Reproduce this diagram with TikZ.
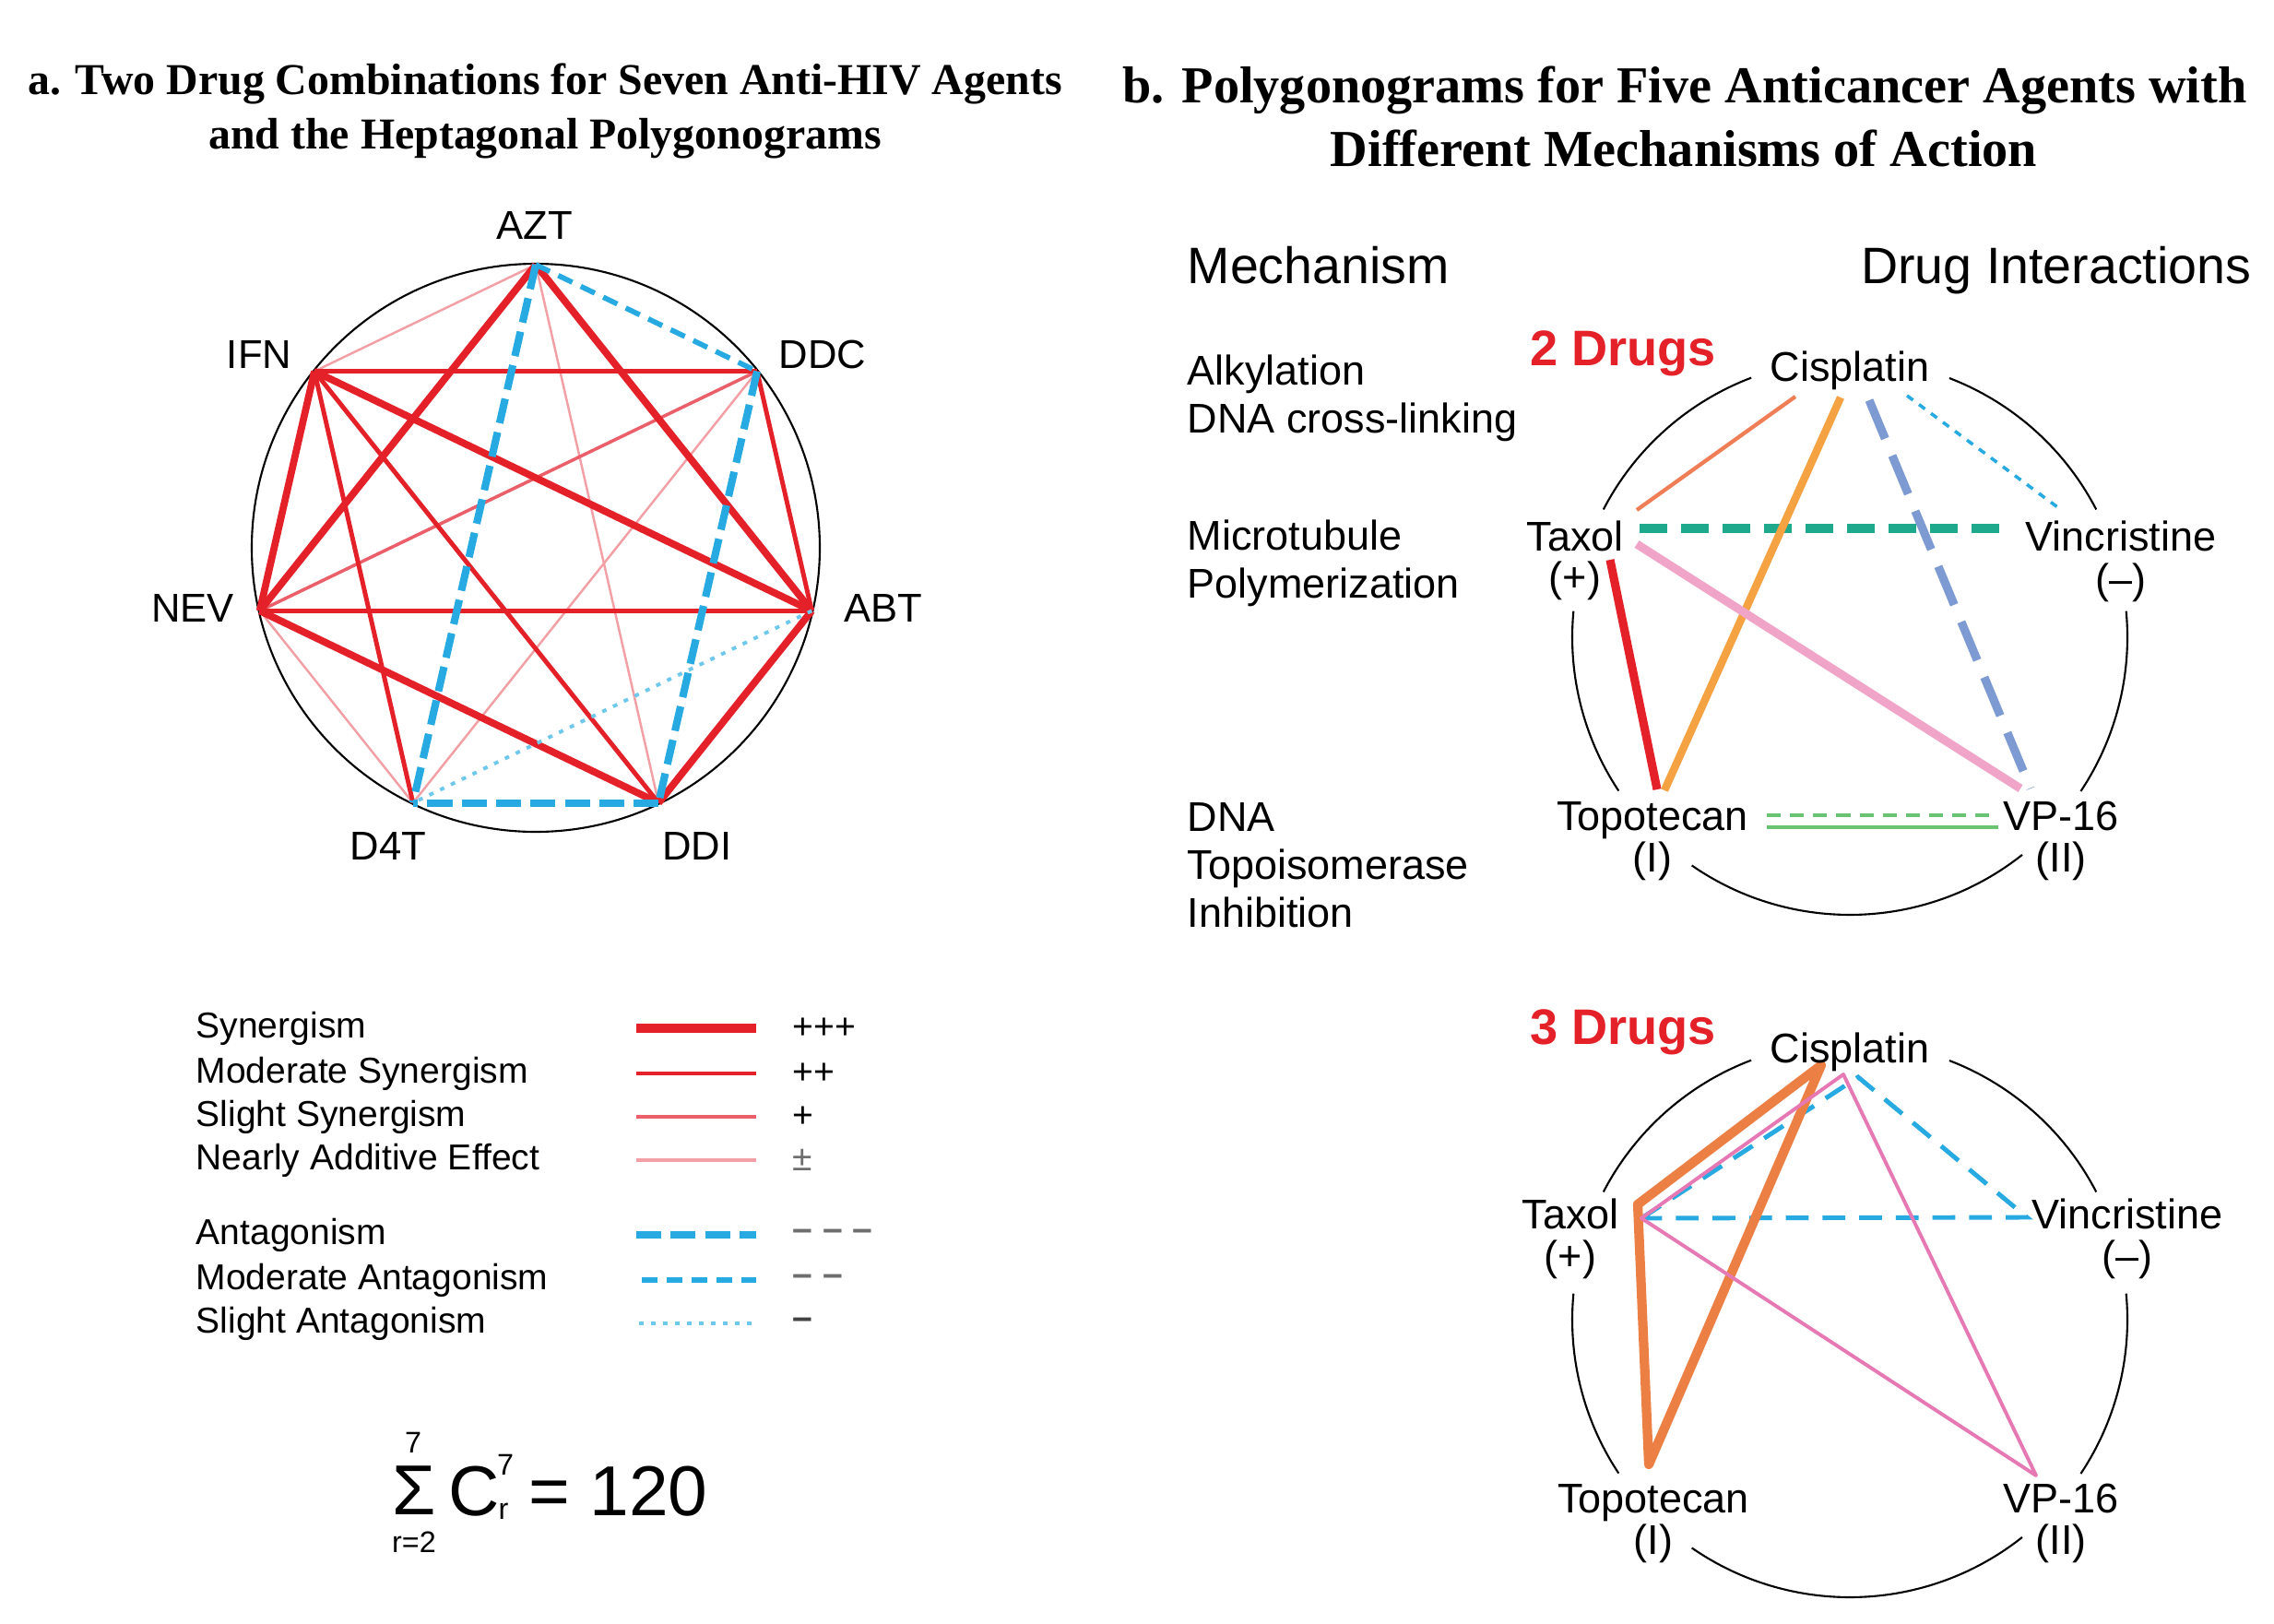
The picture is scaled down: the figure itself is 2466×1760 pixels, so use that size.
\documentclass[tikz,border=0pt]{standalone}
\usepackage{fontspec}
\setmainfont{Liberation Sans}
\newfontfamily\titlefont{Liberation Serif}
\usetikzlibrary{calc}
\definecolor{synred}{RGB}{228,33,41}
\definecolor{slightred}{RGB}{234,95,105}
\definecolor{addpink}{RGB}{242,160,165}
\definecolor{antblue}{RGB}{39,170,225}
\definecolor{lightblue}{RGB}{110,200,236}
\definecolor{salmon}{RGB}{239,125,85}
\definecolor{lorange}{RGB}{245,162,66}
\definecolor{periw}{RGB}{125,155,210}
\definecolor{tealb}{RGB}{30,168,140}
\definecolor{pinkb}{RGB}{240,165,200}
\definecolor{greenb}{RGB}{105,195,115}
\definecolor{orangec}{RGB}{236,128,68}
\definecolor{pinkc}{RGB}{230,120,180}
\definecolor{symgray}{RGB}{110,110,110}
\begin{document}
\begin{tikzpicture}[x=0.01cm,y=-0.01cm,
  titlea/.style={font=\titlefont\bfseries\fontsize{13.6}{16}\selectfont, inner sep=0pt},
  titleb/.style={font=\titlefont\bfseries\fontsize{16}{19}\selectfont, inner sep=0pt},
  hlabel/.style={font=\fontsize{12.4}{14}\selectfont, inner sep=0pt},
  leg/.style={font=\fontsize{11.1}{13}\selectfont, inner sep=0pt, anchor=west},
  head/.style={font=\fontsize{15.8}{18}\selectfont, inner sep=0pt},
  mech/.style={font=\fontsize{12.8}{15}\selectfont, inner sep=0pt, anchor=base west},
  drug/.style={font=\fontsize{12.8}{15}\selectfont, inner sep=0pt, anchor=base},
  paren/.style={font=\fontsize{12.8}{15}\selectfont, inner sep=0pt},
  ndrugs/.style={font=\bfseries\fontsize{15.4}{18}\selectfont, text=synred, inner sep=0pt, anchor=base},
  bigm/.style={font=\fontsize{21.8}{24}\selectfont, inner sep=0pt},
  smallm/.style={font=\fontsize{9.2}{11}\selectfont, inner sep=0pt},
  syn/.style={draw=synred, line width=2.2pt},
  modsyn/.style={draw=synred, line width=1.4pt},
  slisyn/.style={draw=slightred, line width=1pt},
  addeff/.style={draw=addpink, line width=0.7pt},
  ant/.style={draw=antblue, line width=2.3pt, dash pattern=on 7.7pt off 2.9pt},
  modant/.style={draw=antblue, line width=1.6pt, dash pattern=on 4.8pt off 2.9pt},
  sliant/.style={draw=lightblue, line width=1.1pt, dash pattern=on 1.4pt off 2.3pt},
  rim/.style={draw=black, line width=0.6pt},
  bsalmon/.style={draw=salmon, line width=1.2pt},
  borange/.style={draw=lorange, line width=2.4pt},
  bperiw/.style={draw=periw, line width=2.6pt, dash pattern=on 12.8pt off 5.7pt},
  bdot/.style={draw=antblue, line width=1pt, dash pattern=on 2.3pt off 2.3pt},
  bteal/.style={draw=tealb, line width=2.6pt, dash pattern=on 8.5pt off 4.3pt},
  bred/.style={draw=synred, line width=2.6pt},
  bpink/.style={draw=pinkb, line width=2.6pt},
  bgreen/.style={draw=greenb, line width=0.9pt},
  bgreendash/.style={draw=greenb, line width=0.9pt, dash pattern=on 4.3pt off 2.85pt},
  corange/.style={draw=orangec, line width=2.9pt, line join=round},
  cpink/.style={draw=pinkc, line width=1.1pt, line join=round},
  cblue/.style={draw=antblue, line width=1.4pt, dash pattern=on 7pt off 4.3pt},
]
\fill[white] (0,0) rectangle (2466,1760);
\useasboundingbox (0,0) rectangle (2466,1760);

% ---------------- Panel a ----------------
\node[titlea] (ta1) at (591,91) {a. Two Drug Combinations for Seven Anti-HIV Agents};
\node[titlea] (ta2) at (591,150) {and the Heptagonal Polygonograms};

\coordinate (C) at (581,594);
\coordinate (AZT) at ($(C)+(270:307)$);
\coordinate (DDC) at ($(C)+(321.43:307)$);
\coordinate (ABT) at ($(C)+(12.86:307)$);
\coordinate (DDI) at ($(C)+(64.29:307)$);
\coordinate (D4T) at ($(C)+(115.71:307)$);
\coordinate (NEV) at ($(C)+(167.14:307)$);
\coordinate (IFN) at ($(C)+(218.57:307)$);

\draw[rim] (C) circle[radius=308];

\draw[addeff] (AZT) -- (IFN);
\draw[addeff] (AZT) -- (DDI);
\draw[addeff] (DDC) -- (D4T);
\draw[addeff] (D4T) -- (NEV);
\draw[slisyn] (DDC) -- (NEV);
\draw[modsyn] (DDC) -- (IFN);
\draw[modsyn] (DDC) -- (ABT);
\draw[modsyn] (ABT) -- (NEV);
\draw[modsyn] (DDI) -- (IFN);
\draw[modsyn] (D4T) -- (IFN);
\draw[syn] (AZT) -- (ABT);
\draw[syn] (AZT) -- (NEV);
\draw[syn] (ABT) -- (IFN);
\draw[syn] (ABT) -- (DDI);
\draw[syn] (DDI) -- (NEV);
\draw[syn] (NEV) -- (IFN);
\draw[sliant] (ABT) -- (D4T);
\draw[modant] (AZT) -- (DDC);
\draw[ant] (AZT) -- (D4T);
\draw[ant] (DDC) -- (DDI);
\draw[ant] (DDI) -- (D4T);

\node[hlabel] (lAZT) at (580,244) {AZT};
\node[hlabel] (lIFN) at (281,384) {IFN};
\node[hlabel] (lDDC) at (892,384) {DDC};
\node[hlabel] (lABT) at (958,659) {ABT};
\node[hlabel] (lNEV) at (209,659) {NEV};
\node[hlabel] (lD4T) at (421,917) {D4T};
\node[hlabel] (lDDI) at (756,917) {DDI};

% legend
\node[leg] (t1) at (212,1115) {Synergism};
\node[leg] (t2) at (212,1164) {Moderate Synergism};
\node[leg] (t3) at (212,1211) {Slight Synergism};
\node[leg] (t4) at (212,1258) {Nearly Additive Effect};
\node[leg] (t5) at (212,1339) {Antagonism};
\node[leg] (t6) at (212,1388) {Moderate Antagonism};
\node[leg] (t7) at (212,1435) {Slight Antagonism};

\coordinate (a1) at (690,1115); \coordinate (b1) at (820,1115);
\coordinate (a2) at (690,1164); \coordinate (b2) at (820,1164);
\coordinate (a3) at (690,1211); \coordinate (b3) at (820,1211);
\coordinate (a4) at (690,1258); \coordinate (b4) at (820,1258);
\coordinate (a5) at (690,1339); \coordinate (b5) at (820,1339);
\coordinate (a6) at (696,1388); \coordinate (b6) at (820,1388);
\coordinate (a7) at (693,1435); \coordinate (b7) at (820,1435);
\draw[syn, line width=2.6pt] (a1) -- (b1);
\draw[modsyn] (a2) -- (b2);
\draw[slisyn] (a3) -- (b3);
\draw[addeff, line width=0.9pt] (a4) -- (b4);
\draw[ant] (a5) -- (b5);
\draw[modant] (a6) -- (b6);
\draw[sliant] (a7) -- (b7);

\node[leg] (s1) at (859,1115) {+++};
\node[leg] (s2) at (859,1164) {++};
\node[leg] (s3) at (859,1211) {+};
\node[leg, text=symgray] (s4) at (859,1258) {±};
\node[leg, text=symgray, font=\bfseries\fontsize{11.1}{13}\selectfont] (s5) at (859,1339) {– – –};
\node[leg, text=symgray, font=\bfseries\fontsize{11.1}{13}\selectfont] (s6) at (859,1388) {– –};
\node[leg, text=symgray!60!black, font=\bfseries\fontsize{11.1}{13}\selectfont] (s7) at (859,1435) {–};

% formula
\node[bigm] (sig) at (449,1616) {Σ};
\node[smallm] (sigt) at (448,1564) {7};
\node[smallm] (sigb) at (449,1672) {r=2};
\node[bigm] (cc) at (514,1617) {C};
\node[smallm] (ct) at (548,1588) {7};
\node[smallm] (cb) at (546,1639) {r};
\node[bigm, anchor=west] (eq) at (573,1617) {= 120};

% ---------------- Panel b ----------------
\node[titleb] (tb1) at (1827,98) {b. Polygonograms for Five Anticancer Agents with};
\node[titleb] (tb2) at (1826,161) {Different Mechanisms of Action};

\node[head, anchor=base west] (hM) at (1287,307) {Mechanism};
\node[head, anchor=base east] (hD) at (2442,307) {Drug Interactions};

\node[mech] (m1) at (1287,417) {Alkylation};
\node[mech] (m2) at (1287,469) {DNA cross-linking};
\node[mech] (m3) at (1287,596) {Microtubule};
\node[mech] (m4) at (1287,648) {Polymerization};
\node[mech] (m5) at (1287,901) {DNA};
\node[mech] (m6) at (1287,953) {Topoisomerase};
\node[mech] (m7) at (1287,1005) {Inhibition};

% two drugs
\node[ndrugs] (n2) at (1760,396) {2 Drugs};
\coordinate (c2) at (2006,691);
\draw[rim] ($(c2)+(207.4:301)$) arc[start angle=207.4,end angle=249.2,radius=301];
\draw[rim] ($(c2)+(146.4:301)$) arc[start angle=146.4,end angle=185.4,radius=301];
\draw[rim] ($(c2)+(51.6:301)$) arc[start angle=51.6,end angle=124.7,radius=301];
\draw[rim] ($(c2)+(-5.4:301)$) arc[start angle=-5.4,end angle=33.7,radius=301];
\draw[rim] ($(c2)+(-69:301)$) arc[start angle=-69,end angle=-27.4,radius=301];

\coordinate (p1a) at (1775,553); \coordinate (p1b) at (1947,430);
\coordinate (p2a) at (1996,431); \coordinate (p2b) at (1805,857);
\coordinate (p3a) at (2027,434); \coordinate (p3b) at (2202,855);
\coordinate (p4a) at (2068,429); \coordinate (p4b) at (2234,552);
\coordinate (p5a) at (1778,573); \coordinate (p5b) at (2178,573);
\coordinate (p6a) at (1746,607); \coordinate (p6b) at (1797,856);
\coordinate (p7a) at (1775,590); \coordinate (p7b) at (2191,855);
\coordinate (p8a) at (1916,884); \coordinate (p8b) at (2163,884);
\coordinate (p9a) at (1916,897); \coordinate (p9b) at (2167,897);

\draw[bsalmon] (p1a) -- (p1b);
\draw[bdot] (p4a) -- (p4b);
\draw[bperiw] (p3a) -- (p3b);
\draw[bteal] (p5a) -- (p5b);
\draw[borange] (p2a) -- (p2b);
\draw[bpink] (p7a) -- (p7b);
\draw[bred] (p6a) -- (p6b);
\draw[bgreendash] (p8a) -- (p8b);
\draw[bgreen] (p9a) -- (p9b);

\node[drug] (cis2) at (2006,413) {Cisplatin};
\node[drug] (tax2) at (1708,597) {Taxol};
\node[paren] (tax2p) at (1708,630) {(+)};
\node[drug] (vin2) at (2300,597) {Vincristine};
\node[paren] (vin2p) at (2300,632) {(–)};
\node[drug] (top2) at (1792,900) {Topotecan};
\node[paren] (top2p) at (1792,934) {(I)};
\node[drug] (vp2) at (2235,900) {VP-16};
\node[paren] (vp2p) at (2235,934) {(II)};

% three drugs
\node[ndrugs] (n3) at (1760,1132) {3 Drugs};
\coordinate (c3) at (2006,1431);
\draw[rim] ($(c3)+(207.4:301)$) arc[start angle=207.4,end angle=249.2,radius=301];
\draw[rim] ($(c3)+(146.4:301)$) arc[start angle=146.4,end angle=185.4,radius=301];
\draw[rim] ($(c3)+(51.6:301)$) arc[start angle=51.6,end angle=124.7,radius=301];
\draw[rim] ($(c3)+(-5.4:301)$) arc[start angle=-5.4,end angle=33.7,radius=301];
\draw[rim] ($(c3)+(-69:301)$) arc[start angle=-69,end angle=-27.4,radius=301];

\coordinate (oT) at (1776,1306); \coordinate (oC) at (1975,1155); \coordinate (oP) at (1788,1588);
\coordinate (kT) at (1780,1321); \coordinate (kC) at (1999,1165); \coordinate (kV) at (2208,1600);
\coordinate (uT) at (1780,1321); \coordinate (uC) at (2015,1168); \coordinate (uV) at (2198,1320);

\draw[cblue] (uT) -- (uC) -- (uV) -- cycle;
\draw[corange] (oT) -- (oC) -- (oP) -- cycle;
\draw[cpink] (kT) -- (kC) -- (kV) -- cycle;

\node[drug] (cis3) at (2006,1152) {Cisplatin};
\node[drug] (tax3) at (1703,1332) {Taxol};
\node[paren] (tax3p) at (1703,1366) {(+)};
\node[drug] (vin3) at (2307,1332) {Vincristine};
\node[paren] (vin3p) at (2307,1366) {(–)};
\node[drug] (top3) at (1793,1640) {Topotecan};
\node[paren] (top3p) at (1793,1674) {(I)};
\node[drug] (vp3) at (2235,1640) {VP-16};
\node[paren] (vp3p) at (2235,1674) {(II)};
\end{tikzpicture}
\end{document}
